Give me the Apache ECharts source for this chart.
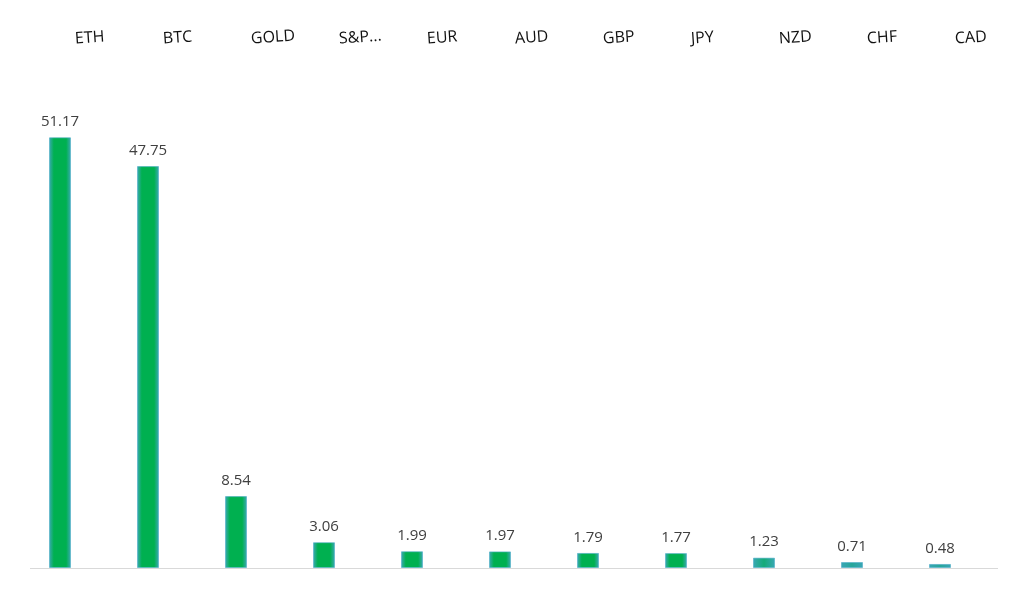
<!DOCTYPE html>
<html><head><meta charset="utf-8">
<script src="https://cdn.jsdelivr.net/npm/echarts@6/dist/echarts.min.js"></script>
<style>html,body{margin:0;padding:0;background:#fff}#c{width:1024px;height:598px}</style>
</head><body><div id="c"></div>
<script>
var categories = ['ETH','BTC','GOLD','S&P...','EUR','AUD','GBP','JPY','NZD','CHF','CAD'];
var values = [51.17, 47.75, 8.54, 3.06, 1.99, 1.97, 1.79, 1.77, 1.23, 0.71, 0.48];

var barGrad = new echarts.graphic.LinearGradient(0,0,1,0,[
  {offset:0,color:'#3fa9b8'},{offset:0.22,color:'#00b050'},
  {offset:0.78,color:'#00b050'},{offset:1,color:'#3fa9b8'}]);
var smallGrad = new echarts.graphic.LinearGradient(0,0,1,0,[
  {offset:0,color:'#3aa6b6'},{offset:0.5,color:'#27a69a'},{offset:1,color:'#3aa6b6'}]);
var midGrad = new echarts.graphic.LinearGradient(0,0,1,0,[
  {offset:0,color:'#3aa8b4'},{offset:0.5,color:'#16ab78'},{offset:1,color:'#3aa8b4'}]);

var data = values.map(function(v){
  return {value:v, itemStyle:{color: v < 1 ? smallGrad : (v < 1.5 ? midGrad : barGrad)}};
});

var chart = echarts.init(document.getElementById('c'));
chart.setOption({
  animation:false,
  backgroundColor:'#fff',
  grid:[{left:16, right:40, top:63, bottom:30},{left:31, right:25, top:63, bottom:30}],
  xAxis:[{
    type:'category', data:categories, position:'bottom', gridIndex:0,
    axisLine:{show:false}, axisTick:{show:false}, axisLabel:{show:false}
  },{
    type:'category', data:categories, position:'top', gridIndex:1,
    axisLine:{show:false}, axisTick:{show:false},
    axisLabel:{show:true, color:'#111', fontSize:16, fontFamily:'Open Sans', rotate:4,
      margin:24, interval:0}
  }],
  yAxis:[{type:'value', min:0, max:60, show:false, gridIndex:0, splitLine:{show:false}},
         {type:'value', min:0, max:60, show:false, gridIndex:1, splitLine:{show:false}}],
  graphic:[{type:'line', shape:{x1:30,y1:568.5,x2:998,y2:568.5}, style:{stroke:'#d9d9d9', lineWidth:1}, z:1}],
  series:[{
    type:'bar', data:data, barWidth:22, z:2, xAxisIndex:0, yAxisIndex:0,
    itemStyle:{borderColor:'rgba(75,172,198,0.6)', borderWidth:1},
    label:{show:true, position:'top', distance:8, color:'#404040', fontSize:15, fontFamily:'Open Sans',
      formatter:function(p){return p.value.toFixed(2);}}
  }]
});
</script></body></html>
